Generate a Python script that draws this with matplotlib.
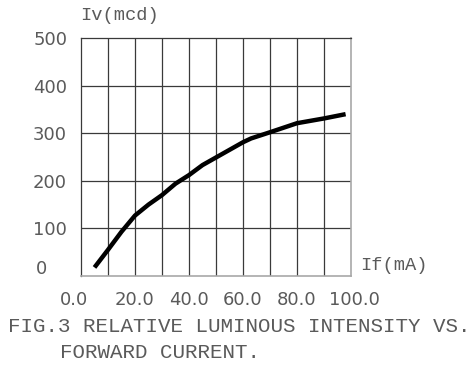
import matplotlib
matplotlib.use("Agg")
import matplotlib.pyplot as plt
from matplotlib.transforms import ScaledTranslation

# Forward current (mA) vs luminous intensity (mcd)
current_ma = [5, 10, 15, 20, 25, 30, 35, 40, 45, 50, 55, 60, 63, 70, 80, 90, 98]
intensity_mcd = [18, 55, 93, 127, 150, 170, 194, 212, 233, 249, 265, 281, 289, 302, 321, 331, 340]

x_ticks = [0, 20, 40, 60, 80, 100]
x_tick_labels = ["0.0", "20.0", "40.0", "60.0", "80.0", "100.0"]
y_ticks = [0, 100, 200, 300, 400, 500]
y_tick_labels = ["0", "100", "200", "300", "400", "500"]
x_grid = list(range(0, 101, 10))

TEXT = "#5a5a5a"
MONO = ["Liberation Mono", "DejaVu Sans Mono"]
SANS = ["DejaVu Sans"]

fig = plt.figure(figsize=(4.75, 3.68), dpi=100)
ax = fig.add_axes([81 / 475, 1 - 276 / 368, 270 / 475, 238 / 368])

ax.set_xlim(0, 100)
ax.set_ylim(0, 500)

for xv in x_grid[1:-1]:
    ax.axvline(xv, color="#3a3a3a", lw=0.9, zorder=1)
for yv in y_ticks[1:-1]:
    ax.axhline(yv, color="#3a3a3a", lw=0.9, zorder=1)

ax.plot(current_ma, intensity_mcd, color="black", lw=3.2, zorder=3,
        solid_capstyle="butt", solid_joinstyle="round")

for side in ("left", "top"):
    ax.spines[side].set_color("#3a3a3a")
    ax.spines[side].set_linewidth(0.9)
for side in ("right", "bottom"):
    ax.spines[side].set_color("#a8a8a8")
    ax.spines[side].set_linewidth(1.2)

ax.set_xticks(x_ticks)
ax.set_xticklabels(x_tick_labels, color=TEXT, fontsize=13, family=SANS)
ax.set_yticks(y_ticks)
ax.set_yticklabels(y_tick_labels, color=TEXT, fontsize=13, family=SANS)
ax.tick_params(axis="both", length=0)
ax.tick_params(axis="x", pad=11)
ax.tick_params(axis="y", pad=10)

# nudge the end labels to sit like hand-lettered annotations
xl = ax.get_xticklabels()
xl[0].set_transform(xl[0].get_transform() + ScaledTranslation(-7 / 100, 0, fig.dpi_scale_trans))
xl[-1].set_transform(xl[-1].get_transform() + ScaledTranslation(3 / 100, 0, fig.dpi_scale_trans))
yl = ax.get_yticklabels()
yl[0].set_transform(yl[0].get_transform() + ScaledTranslation(-20 / 100, 9 / 100, fig.dpi_scale_trans))

fig.text(80 / 475, 1 - 15 / 368, "Iv(mcd)", color=TEXT, fontsize=13.5, family=MONO,
         ha="left", va="center")
fig.text(360 / 475, 1 - 266 / 368, "If(mA)", color=TEXT, fontsize=13.5, family=MONO,
         ha="left", va="center")
fig.text(8 / 475, 1 - 327 / 368, "FIG.3 RELATIVE LUMINOUS INTENSITY VS.",
         color=TEXT, fontsize=15, family=MONO, ha="left", va="center")
fig.text(60 / 475, 1 - 353 / 368, "FORWARD CURRENT.",
         color=TEXT, fontsize=15, family=MONO, ha="left", va="center")

fig.savefig("out.png", dpi=100, facecolor="white")
